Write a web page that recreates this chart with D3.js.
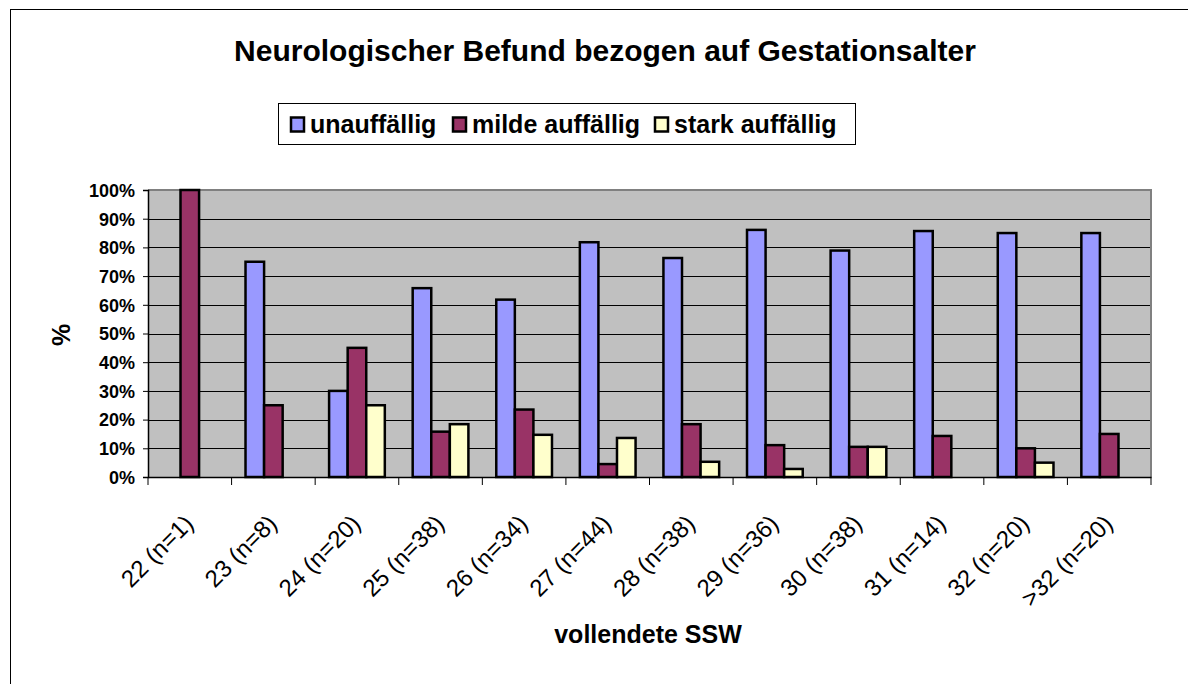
<!DOCTYPE html>
<html>
<head>
<meta charset="utf-8">
<script src="https://cdn.jsdelivr.net/npm/d3@7/dist/d3.min.js"></script>
<style>
  html, body { margin: 0; padding: 0; background: #fff; }
  svg { display: block; font-family: "Liberation Sans", Arial, sans-serif; }
</style>
</head>
<body>
<svg id="chart" width="1188" height="684"></svg>
<script>
const categories = ["22 (n=1)", "23 (n=8)", "24 (n=20)", "25 (n=38)", "26 (n=34)", "27 (n=44)",
                    "28 (n=38)", "29 (n=36)", "30 (n=38)", "31 (n=14)", "32 (n=20)", ">32 (n=20)"];
const seriesNames = ["unauffällig", "milde auffällig", "stark auffällig"];
const unauffaellig   = [0, 75, 30, 65.8, 61.8, 81.8, 76.3, 86.1, 78.9, 85.7, 85, 85];
const mildeAuffaellig = [100, 25, 45, 15.8, 23.5, 4.5, 18.4, 11.1, 10.5, 14.3, 10, 15];
const starkAuffaellig = [0, 0, 25, 18.4, 14.7, 13.6, 5.3, 2.8, 10.5, 0, 5, 0];
const yTicks = [0, 10, 20, 30, 40, 50, 60, 70, 80, 90, 100];
const colors = ["#9999FF", "#993366", "#FFFFCC"];
const titleText = "Neurologischer Befund bezogen auf Gestationsalter";
const xTitle = "vollendete SSW";
const yTitle = "%";

const seriesValues = [unauffaellig, mildeAuffaellig, starkAuffaellig];
const svg = d3.select("#chart");

// outer chart border
svg.append("rect").attr("x", 10.5).attr("y", 9.5).attr("width", 1300).attr("height", 800)
  .attr("fill", "#fff").attr("stroke", "#000").attr("stroke-width", 1);

const plot = {left: 148, right: 1151, top: 190, bottom: 477};

const x0 = d3.scaleBand().domain(categories).range([plot.left, plot.right]).paddingInner(0).paddingOuter(0);
const x1 = d3.scaleBand().domain(seriesNames).range([0, x0.bandwidth()]).paddingInner(0).paddingOuter(0.75);
const y = d3.scaleLinear().domain([0, 100]).range([plot.bottom, plot.top]);

// plot background
svg.append("rect").attr("x", plot.left).attr("y", plot.top)
  .attr("width", plot.right - plot.left).attr("height", plot.bottom - plot.top)
  .attr("fill", "#C0C0C0");

// gridlines
svg.append("g").selectAll("line").data(yTicks.filter(d => d > 0)).join("line")
  .attr("x1", plot.left).attr("x2", plot.right)
  .attr("y1", d => Math.round(y(d)) + 0.5).attr("y2", d => Math.round(y(d)) + 0.5)
  .attr("stroke", "#000").attr("stroke-width", 1);

// plot border top/right (gray)
svg.append("path")
  .attr("d", `M${plot.left},${plot.top} H${plot.right} V${plot.bottom}`)
  .attr("fill", "none").attr("stroke", "#808080").attr("stroke-width", 2);

// bars
const groups = svg.append("g").selectAll("g").data(categories).join("g")
  .attr("transform", d => `translate(${x0(d)},0)`);
groups.selectAll("rect")
  .data((c, i) => seriesNames.map((s, j) => ({s, j, v: seriesValues[j][i]})).filter(d => d.v > 0))
  .join("rect")
  .attr("x", d => x1(d.s))
  .attr("y", d => y(d.v))
  .attr("width", x1.bandwidth())
  .attr("height", d => y(0) - y(d.v))
  .attr("fill", d => colors[d.j])
  .attr("stroke", "#000").attr("stroke-width", 2.5);

// y axis
const yAxis = d3.axisLeft(y).tickValues(yTicks).tickSize(5).tickFormat(d => d + "%");
const gy = svg.append("g").attr("transform", `translate(${plot.left},0)`).call(yAxis);
gy.select(".domain").attr("stroke", "#000").attr("stroke-width", 1.5);
gy.selectAll(".tick line").attr("stroke", "#000");
gy.selectAll(".tick text").attr("font-size", 18).attr("font-weight", "bold")
  .attr("font-family", "Liberation Sans, Arial, sans-serif").attr("fill", "#000").attr("x", -13).attr("dy", "0.35em");

// x axis
const xAxis = d3.axisBottom(x0).tickSize(0).tickFormat("");
const gx = svg.append("g").attr("transform", `translate(0,${plot.bottom})`).call(xAxis);
gx.select(".domain").attr("stroke", "#000").attr("stroke-width", 1.5);
// category boundary ticks
svg.append("g").selectAll("line").data(d3.range(categories.length + 1)).join("line")
  .attr("x1", i => plot.left + i * x0.step()).attr("x2", i => plot.left + i * x0.step())
  .attr("y1", plot.bottom).attr("y2", plot.bottom + 8)
  .attr("stroke", "#000").attr("stroke-width", 1);

// x tick labels rotated
svg.append("g").selectAll("text").data(categories).join("text")
  .attr("transform", d => `translate(${x0(d) + x0.bandwidth() / 2 + 5},${plot.bottom + 48}) rotate(-45)`)
  .attr("text-anchor", "end")
  .attr("font-size", 24)
  .attr("fill", "#000")
  .text(d => d);

// title
svg.append("text").attr("x", 605).attr("y", 61).attr("text-anchor", "middle")
  .attr("font-size", 30).attr("font-weight", "bold").text(titleText);

// legend
const legend = svg.append("g");
legend.append("rect").attr("x", 278.5).attr("y", 103.5).attr("width", 577).attr("height", 41)
  .attr("fill", "#fff").attr("stroke", "#000").attr("stroke-width", 1);
const legendX = [290, 452, 654];
seriesNames.forEach((s, j) => {
  legend.append("rect").attr("x", legendX[j] + 1).attr("y", 117.5).attr("width", 13).attr("height", 14)
    .attr("fill", colors[j]).attr("stroke", "#000").attr("stroke-width", 2.5);
  legend.append("text").attr("x", legendX[j] + 20).attr("y", 133)
    .attr("font-size", 25).attr("font-weight", "bold").text(s);
});

// axis titles
svg.append("text").attr("x", 648).attr("y", 643).attr("text-anchor", "middle")
  .attr("font-size", 25).attr("font-weight", "bold").text(xTitle);
svg.append("text").attr("transform", "translate(70,335) rotate(-90)").attr("text-anchor", "middle")
  .attr("font-size", 25).attr("font-weight", "bold").text(yTitle);
</script>
</body>
</html>
